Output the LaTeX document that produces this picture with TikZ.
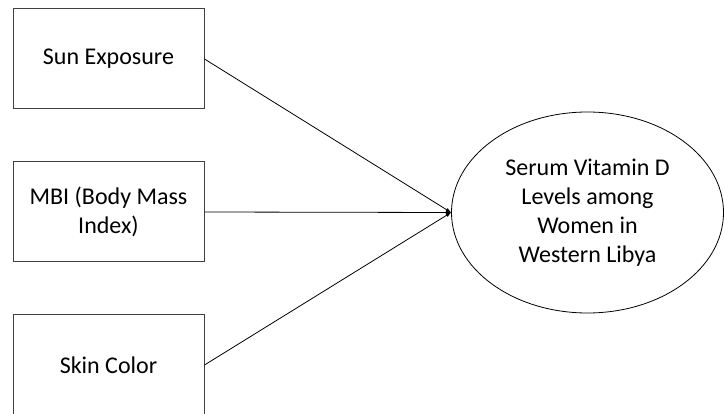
\documentclass[tikz,border=0pt]{standalone}
\usepackage{fontspec}
\setmainfont{Carlito}
\usetikzlibrary{shapes.geometric}

\tikzset{
  factor/.style={draw=black!75, line width=1pt, minimum width=191pt, minimum height=100pt, align=center, inner sep=0pt},
  outcome/.style={draw, ellipse, line width=0.8pt, minimum width=272pt, minimum height=201pt, align=center, inner sep=0pt}
}

\begin{document}
\begin{tikzpicture}[x=1pt, y=-1pt, font=\fontsize{24}{29}\selectfont]

\useasboundingbox (0,0) rectangle (724,414);

% Factors on the left
\node [factor] (sun)  at (108.5,59)  {Sun Exposure};
\node [factor] (bmi)  at (108.5,212) {MBI (Body Mass\\Index)};
\node [factor] (skin) at (108.5,365) {Skin Color};

% Outcome
\node [outcome] (vitd) at (587.5,212.5) {Serum Vitamin D\\Levels among\\Women in\\Western Libya};

% Draw arrows into the outcome
\draw [->,>=latex, line width=0.8pt] (sun.east)  -- (vitd.west);
\draw [->,>=latex, line width=0.8pt] (bmi.east)  -- (vitd.west);
\draw [->,>=latex, line width=0.8pt] (skin.east) -- (vitd.west);

\end{tikzpicture}
\end{document}
